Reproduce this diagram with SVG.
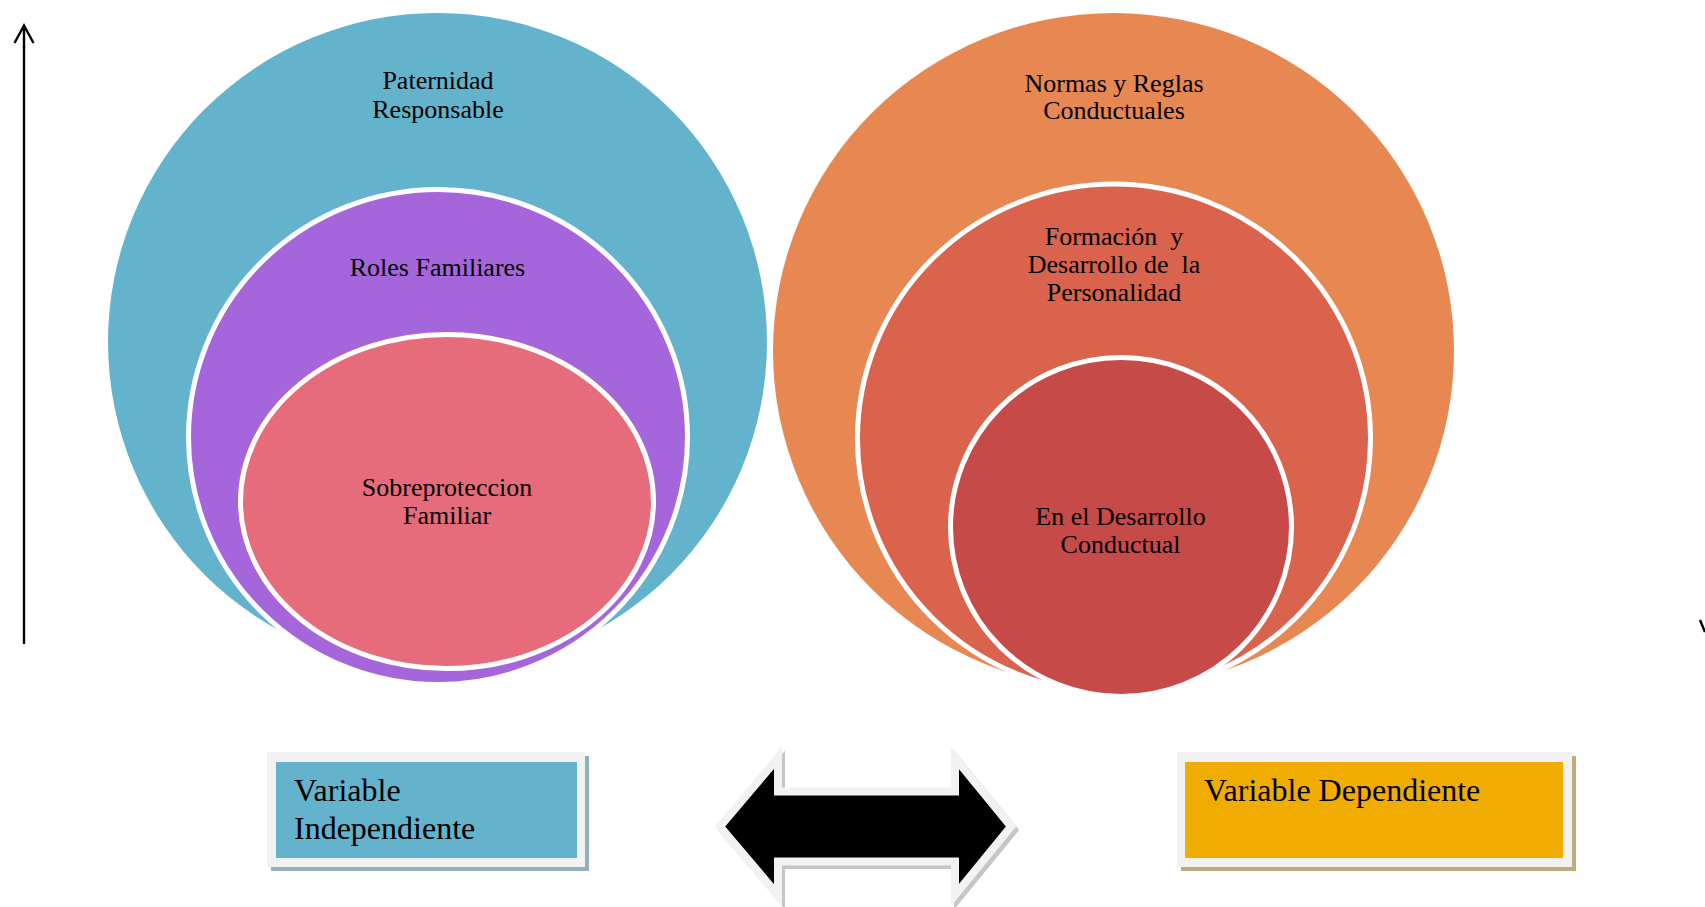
<svg xmlns="http://www.w3.org/2000/svg" width="1705" height="907" viewBox="0 0 1705 907">
<style>
.t{font-family:"Liberation Serif","Times New Roman",serif;font-size:26px;fill:#000;text-anchor:middle;white-space:pre}
.b{font-family:"Liberation Serif","Times New Roman",serif;font-size:32px;fill:#000;white-space:pre}
.ring{stroke:#fff;stroke-width:5}
.ax{stroke:#000;stroke-width:2.4;fill:none}
</style>
<rect width="1705" height="907" fill="#fff"/>
<g id="connectors">
<line class="ax" x1="24" y1="644" x2="24" y2="26"/>
<polyline class="ax" points="14.5,43 24,25.5 33.5,43"/>
<line class="ax" x1="1700" y1="620" x2="1705" y2="632"/>
</g>
<g id="paternidad">
<ellipse cx="437.5" cy="342" rx="329.5" ry="329" fill="#62b3cb"/>
<text class="t" x="438" y="89">Paternidad</text>
<text class="t" x="438" y="117.5">Responsable</text>
</g>
<g id="roles">
<ellipse class="ring" cx="438" cy="437" rx="249.5" ry="247.5" fill="#a466da"/>
<text class="t" x="437.5" y="276">Roles Familiares</text>
</g>
<g id="sobreproteccion">
<ellipse class="ring" cx="447" cy="501.5" rx="206.5" ry="167" fill="#e66b7b"/>
<text class="t" x="447" y="496">Sobreproteccion</text>
<text class="t" x="447" y="524">Familiar</text>
</g>
<g id="normas">
<ellipse cx="1113.5" cy="351" rx="340.5" ry="338" fill="#e78752"/>
<text class="t" x="1114" y="92">Normas y Reglas</text>
<text class="t" x="1114" y="119">Conductuales</text>
</g>
<g id="formacion">
<ellipse class="ring" cx="1114" cy="438.4" rx="256.5" ry="254.3" fill="#d9634c"/>
<text class="t" x="1114" y="245">Formación  y</text>
<text class="t" x="1114" y="273">Desarrollo de  la</text>
<text class="t" x="1114" y="300.5">Personalidad</text>
</g>
<g id="desarrollo-conductual">
<ellipse class="ring" cx="1121" cy="527" rx="170.5" ry="169.5" fill="#c64a48"/>
<text class="t" x="1120.5" y="525">En el Desarrollo</text>
<text class="t" x="1120.5" y="552.5">Conductual</text>
</g>
<g id="variable-independiente">
<rect x="271" y="756" width="318" height="115" fill="#93b1bc"/>
<rect x="267" y="752" width="318" height="115" fill="#f2f2f2"/>
<rect x="276" y="762" width="301" height="96" fill="#62b3cb"/>
<text class="b" x="294" y="801">Variable</text>
<text class="b" x="294" y="839">Independiente</text>
</g>
<g id="doble-flecha">
<path d="M723,830 L781,761.5 L781,795 L958,795 L958,761.5 L1014,830 L958,898.5 L958,865 L781,865 L781,898.5 Z" fill="#c6c6c6" stroke="#c6c6c6" stroke-width="8" stroke-linejoin="miter"/>
<path d="M720,826.5 L778,758 L778,791.5 L955,791.5 L955,758 L1011,826.5 L955,895 L955,861.5 L778,861.5 L778,895 Z" fill="#000" stroke="#f2f2f2" stroke-width="8" stroke-linejoin="miter"/>
</g>
<g id="variable-dependiente">
<rect x="1181" y="756" width="395" height="115" fill="#c3aa7c"/>
<rect x="1177" y="752" width="395" height="115" fill="#f2f2f2"/>
<rect x="1185" y="762" width="378" height="96" fill="#f0ac00"/>
<text class="b" x="1204" y="801">Variable Dependiente</text>
</g>
</svg>
